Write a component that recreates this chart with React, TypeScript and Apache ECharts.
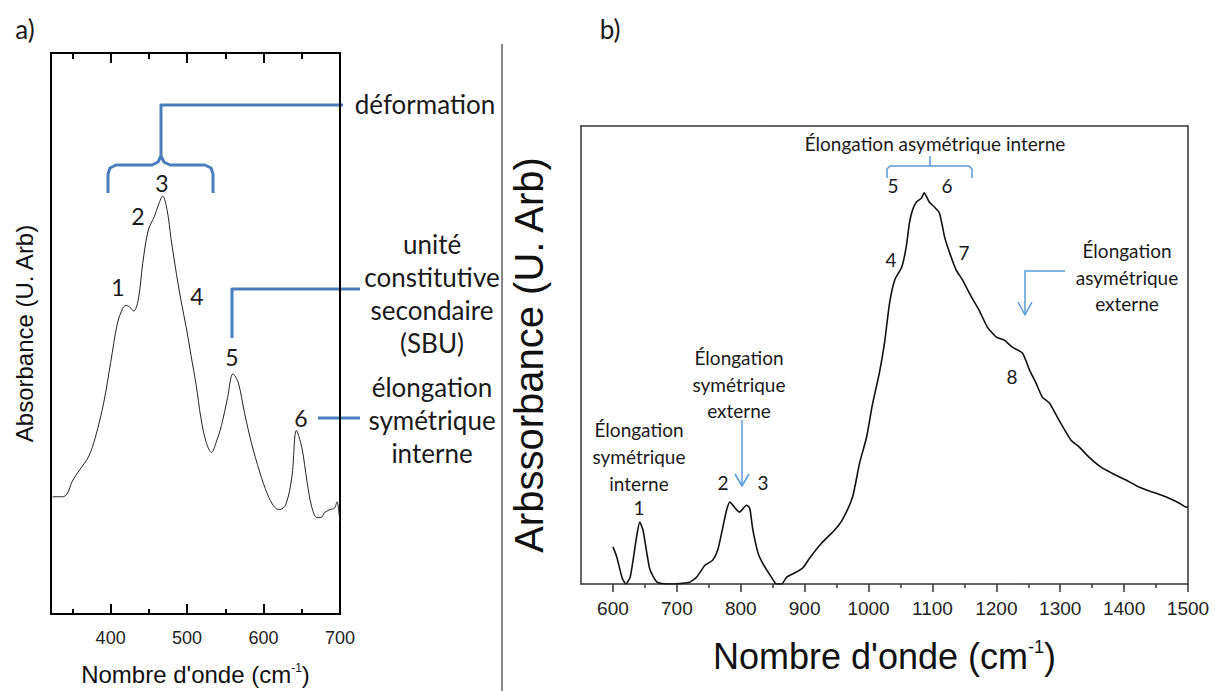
import { useEffect, useRef } from "react";
import * as echarts from "echarts";

// ---------- Panel a : spectrum 320-700 cm-1 ----------
const wavenumberA = [324, 337, 343, 350, 360, 371, 380, 391, 400, 409, 416, 420, 425, 430, 436, 442, 449, 457, 463, 468, 474, 479, 486, 492, 499, 505, 512, 518, 525, 532, 538, 545, 553, 560, 567, 575, 584, 595, 605, 614, 621, 629, 637, 643, 650, 657, 663, 670, 675, 680, 687, 693, 696, 699, 700];
const absorbanceA = [20.9, 20.9, 21.4, 23.7, 25.8, 28.0, 31.5, 37.7, 44.8, 51.9, 54.5, 55.0, 54.7, 54.0, 55.9, 62.5, 68.3, 70.8, 73.1, 74.5, 71.9, 66.9, 60.7, 55.9, 51.0, 46.2, 40.7, 35.0, 30.6, 28.8, 30.6, 33.6, 38.6, 42.8, 41.2, 35.9, 30.6, 25.3, 21.4, 19.1, 18.6, 19.5, 24.4, 32.7, 29.7, 23.5, 19.1, 17.2, 17.2, 18.1, 18.6, 18.9, 20.0, 17.7, 16.5];
const majorTicksA = [400, 500, 600, 700];
const minorTicksA = [350, 450, 550, 650];

// ---------- Panel b : spectrum 600-1500 cm-1 ----------
const wavenumberB = [600, 606, 614, 620, 627, 637, 642, 647, 653, 658, 669, 684, 720, 731, 744, 756, 764, 772, 778, 783, 791, 798, 809, 814, 819, 827, 834, 848, 856, 864, 872, 884, 897, 908, 927, 947, 959, 975, 986, 997, 1006, 1017, 1025, 1033, 1041, 1052, 1059, 1064, 1069, 1075, 1083, 1087, 1095, 1103, 1111, 1119, 1127, 1137, 1147, 1161, 1173, 1186, 1200, 1212, 1225, 1241, 1252, 1262, 1272, 1283, 1298, 1317, 1330, 1345, 1364, 1381, 1403, 1423, 1444, 1466, 1486, 1497, 1500];
const absorbanceB = [8.1, 5.9, 1.5, 0, 1.5, 10.3, 13.5, 11.8, 6.8, 3.1, 0.4, 0, 0.4, 1.5, 4.1, 5.2, 7.4, 12.4, 16.2, 17.9, 16.6, 15.7, 17.2, 16.6, 11.8, 6.8, 4.6, 1.5, 0, 0, 1.5, 2.4, 3.5, 5.7, 9.0, 11.8, 14.0, 19.0, 26.4, 32.1, 39.1, 46.1, 52.6, 61.4, 66.4, 69.2, 73.6, 78.8, 81.7, 83.4, 84.3, 85.4, 83.4, 82.3, 81.0, 75.8, 72.3, 68.6, 66.4, 62.7, 59.8, 56.1, 53.9, 53.3, 51.7, 50.4, 46.7, 43.9, 40.8, 39.5, 35.8, 31.4, 29.9, 27.7, 25.5, 24.2, 22.7, 21.2, 20.1, 19.0, 17.7, 16.8, 16.8];
const majorTicksB = [600, 700, 800, 900, 1000, 1100, 1200, 1300, 1400, 1500];
const minorTicksB = [650, 750, 850, 950, 1050, 1150, 1250, 1350, 1450];

const AXIS_FONT = "'Liberation Sans', Arial, sans-serif";
const NOTE_FONT = "Lato, 'Open Sans', sans-serif";
const BLUE_A = "#4a7ebb";
const BLUE_B = "#5b9bd5";

function txt(text: string, x: number, y: number, size: number, lineHeight?: number) {
  return {
    type: "text",
    x,
    y,
    style: {
      text,
      fontFamily: NOTE_FONT,
      fontSize: size,
      lineHeight: lineHeight ?? size * 1.2,
      fill: "#1a1a1a",
      align: "center",
      verticalAlign: "middle",
    },
  };
}

function pline(points: number[][], color: string, width: number) {
  return {
    type: "polyline",
    shape: { points },
    style: { stroke: color, lineWidth: width, fill: "none", lineJoin: "round", lineCap: "butt" },
  };
}

const plain = (v: number) => String(v);

export default function App() {
  const ref = useRef<HTMLDivElement>(null);

  useEffect(() => {
    if (!ref.current) return;
    const chart = echarts.init(ref.current, null, { renderer: "svg" });

    const hidden = { show: false };
    const lineA = { show: true, onZero: false, lineStyle: { color: "#000", width: 2 } };
    const lineB = { show: true, onZero: false, lineStyle: { color: "#333", width: 1.5 } };

    const xAxes: any[] = [
      {
        type: "value", gridIndex: 0, position: "bottom", min: 322, max: 700,
        axisLine: lineA,
        axisTick: { show: true, inside: true, length: 10, customValues: majorTicksA, lineStyle: { color: "#000", width: 2 } },
        axisLabel: { show: true, customValues: majorTicksA, formatter: plain, fontFamily: AXIS_FONT, fontSize: 18, color: "#222", margin: 15 },
        splitLine: hidden,
        name: "Nombre d'onde (cm{s|-1})", nameLocation: "middle", nameGap: 48,
        nameTextStyle: { fontFamily: AXIS_FONT, fontSize: 24, color: "#111", rich: { s: { fontFamily: AXIS_FONT, fontSize: 12, verticalAlign: "top", color: "#111" } } },
      },
      {
        type: "value", gridIndex: 0, position: "bottom", min: 322, max: 700,
        axisLine: { show: false, onZero: false },
        axisTick: { show: true, inside: true, length: 5, customValues: minorTicksA, lineStyle: { color: "#000", width: 2 } },
        axisLabel: hidden, splitLine: hidden,
      },
      {
        type: "value", gridIndex: 0, position: "top", min: 322, max: 700,
        axisLine: lineA,
        axisTick: { show: true, inside: true, length: 10, customValues: majorTicksA, lineStyle: { color: "#000", width: 2 } },
        axisLabel: hidden, splitLine: hidden,
      },
      {
        type: "value", gridIndex: 0, position: "top", min: 322, max: 700,
        axisLine: { show: false, onZero: false },
        axisTick: { show: true, inside: true, length: 6, customValues: minorTicksA, lineStyle: { color: "#000", width: 2 } },
        axisLabel: hidden, splitLine: hidden,
      },
      {
        type: "value", gridIndex: 1, position: "bottom", min: 550, max: 1500,
        axisLine: lineB,
        axisTick: { show: true, inside: false, length: 8, customValues: majorTicksB, lineStyle: { color: "#333", width: 1.5 } },
        axisLabel: { show: true, customValues: majorTicksB, formatter: plain, fontFamily: AXIS_FONT, fontSize: 19, color: "#222", margin: 15 },
        splitLine: hidden,
        name: "Nombre d'onde (cm{s|-1})", nameLocation: "middle", nameGap: 54,
        nameTextStyle: { fontFamily: AXIS_FONT, fontSize: 36, color: "#111", rich: { s: { fontFamily: AXIS_FONT, fontSize: 18, verticalAlign: "top", color: "#111" } } },
      },
      {
        type: "value", gridIndex: 1, position: "bottom", min: 550, max: 1500,
        axisLine: { show: false, onZero: false },
        axisTick: { show: true, inside: false, length: 4, customValues: minorTicksB, lineStyle: { color: "#333", width: 1.5 } },
        axisLabel: hidden, splitLine: hidden,
      },
      {
        type: "value", gridIndex: 1, position: "top", min: 550, max: 1500,
        axisLine: lineB, axisTick: hidden, axisLabel: hidden, splitLine: hidden,
      },
    ];

    const yAxes: any[] = [
      {
        type: "value", gridIndex: 0, position: "left", min: 0, max: 100,
        axisLine: lineA, axisTick: hidden, axisLabel: hidden, splitLine: hidden,
        name: "Absorbance (U. Arb)", nameLocation: "middle", nameRotate: 90, nameGap: 15,
        nameTextStyle: { fontFamily: AXIS_FONT, fontSize: 24, color: "#111" },
      },
      {
        type: "value", gridIndex: 0, position: "right", min: 0, max: 100,
        axisLine: lineA, axisTick: hidden, axisLabel: hidden, splitLine: hidden,
      },
      {
        type: "value", gridIndex: 1, position: "left", min: 0, max: 100,
        axisLine: lineB, axisTick: hidden, axisLabel: hidden, splitLine: hidden,
        name: "Arbssorbance (U. Arb)", nameLocation: "middle", nameRotate: 90, nameGap: 32,
        nameTextStyle: { fontFamily: AXIS_FONT, fontSize: 40, color: "#111" },
      },
      {
        type: "value", gridIndex: 1, position: "right", min: 0, max: 100,
        axisLine: lineB, axisTick: hidden, axisLabel: hidden, splitLine: hidden,
      },
    ];

    const graphics: any[] = [
      txt("a)", 25, 29, 26),
      txt("b)", 610, 29, 26),
      { type: "line", shape: { x1: 502, y1: 44, x2: 502, y2: 691 }, style: { stroke: "#111", lineWidth: 1 } },

      pline([[108, 193], [108, 174], [110, 168], [116, 165], [152, 165], [158, 162], [161, 156]], BLUE_A, 3),
      pline([[161, 156], [164, 162], [170, 165], [205, 165], [211, 168], [213, 174], [213, 193]], BLUE_A, 3),
      pline([[161, 157], [161, 105], [343, 105]], BLUE_A, 3),
      pline([[232, 338], [232, 289], [360, 289]], BLUE_A, 3),
      pline([[318, 418], [360, 418]], BLUE_A, 3),
      txt("déformation", 425, 104, 26),
      txt("unité\nconstitutive\nsecondaire\n(SBU)", 432, 293, 26, 33),
      txt("élongation\nsymétrique\ninterne", 432, 420, 26, 33),
      txt("1", 118, 287, 23),
      txt("2", 138, 216, 23),
      txt("3", 162, 183, 23),
      txt("4", 197, 296, 23),
      txt("5", 232, 357, 23),
      txt("6", 301, 418, 23),

      txt("Élongation asymétrique interne", 935, 143, 19),
      pline([[887, 178], [887, 169], [890, 166], [969, 166], [972, 169], [972, 178]], BLUE_B, 1.5),
      pline([[930, 166], [930, 156]], BLUE_B, 1.5),
      txt("5", 893, 185, 19),
      txt("6", 947, 185, 19),
      txt("4", 891, 259, 19),
      txt("7", 964, 252, 19),
      txt("8", 1012, 376, 19),
      txt("Élongation\nasymétrique\nexterne", 1127, 277, 19, 26.5),
      pline([[1065, 271], [1025, 271], [1025, 315]], BLUE_B, 1.5),
      pline([[1018, 302], [1025, 315], [1032, 302]], BLUE_B, 1.5),
      txt("Élongation\nsymétrique\nexterne", 739, 384, 19, 26.5),
      pline([[742, 420], [742, 486]], BLUE_B, 1.5),
      pline([[735, 474], [742, 486], [749, 474]], BLUE_B, 1.5),
      txt("2", 723, 482, 19),
      txt("3", 763, 482, 19),
      txt("Élongation\nsymétrique\ninterne", 639, 456, 19, 27),
      txt("1", 639, 507, 19),
    ];

    chart.setOption({
      animation: false,
      backgroundColor: "#fff",
      grid: [
        { left: 51, top: 53, width: 289, height: 565, containLabel: false },
        { left: 581, top: 126, width: 607, height: 458, containLabel: false },
      ],
      xAxis: xAxes,
      yAxis: yAxes,
      series: [
        {
          type: "line", xAxisIndex: 0, yAxisIndex: 0,
          data: wavenumberA.map((w, i) => [w, absorbanceA[i]]),
          smooth: 0.35, showSymbol: false,
          lineStyle: { color: "#222", width: 1 },
        },
        {
          type: "line", xAxisIndex: 4, yAxisIndex: 2,
          data: wavenumberB.map((w, i) => [w, absorbanceB[i]]),
          smooth: 0.2, showSymbol: false,
          lineStyle: { color: "#111", width: 1.6 },
        },
      ],
      graphic: graphics,
    });

    return () => chart.dispose();
  }, []);

  return (
    <div
      ref={ref}
      style={{ position: "absolute", left: 0, top: 0, width: 1215, height: 691, background: "#fff" }}
    />
  );
}
